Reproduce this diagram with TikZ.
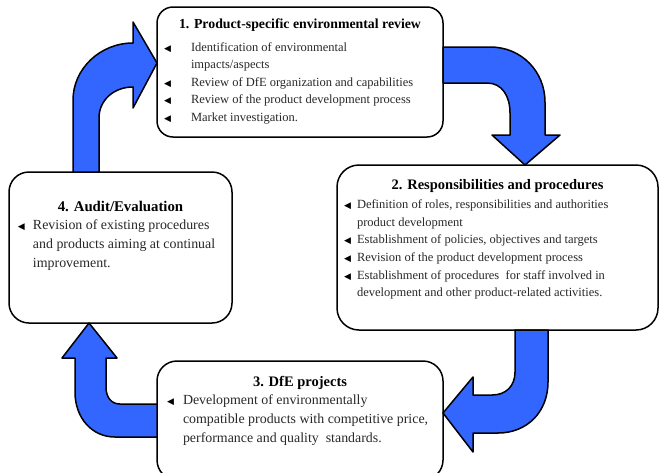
\documentclass[tikz,border=0pt]{standalone}
\usepackage{fontspec}
\setmainfont{Liberation Serif}
\newfontfamily\symfont{DejaVu Sans}
\usetikzlibrary{positioning}
\definecolor{arrowblue}{RGB}{51,102,255}
\definecolor{bodygray}{RGB}{40,40,40}
\newlength{\bhang}
\newcommand{\tri}{\raisebox{0pt}{\color{black}\symfont\fontsize{9}{9}\selectfont ◀}}
\newcommand{\bodysize}[2]{\fontsize{#1}{#2}\selectfont\color{bodygray}}
\newcommand{\stagetitle}[2][14.5]{{\centering\color{black}\fontsize{#1}{17}\selectfont\bfseries #2\par}}
\newcommand{\bitem}[1]{\par\hangindent=\bhang\hangafter=1\noindent\makebox[\bhang][l]{\tri}#1}
\newcommand{\stagebox}[6]{\parbox[c][#2][t]{#1}{\vspace*{#3}\leftskip=#4\relax\rightskip=0pt plus 1fil\relax\parindent=0pt\setlength{\bhang}{#5}#6}}

\begin{document}
\begin{tikzpicture}[x=1pt,y=-1pt,
    stage/.style={draw, line width=1.5pt, rounded corners=18pt, fill=white, inner sep=0pt},
    bigarrow/.style={draw, line width=1.5pt, fill=arrowblue, line join=round}]
  \useasboundingbox (0,0) rectangle (660,472);

  \node (rev)   [stage, rounded corners=16pt] at (300,72)
      {\stagebox{286pt}{130pt}{12pt}{7pt}{27pt}{\bodysize{12.5}{17.5}%
        \stagetitle[13.8]{1. Product-specific environmental review}\vspace{5pt}%
        \bitem{Identification of environmental\newline impacts/aspects}%
        \bitem{Review of DfE organization and capabilities}%
        \bitem{Review of the product development process}%
        \bitem{Market investigation.}}};
  \node (resp)  [stage, rounded corners=22pt] at (497.5,247.5)
      {\stagebox{321pt}{165pt}{14pt}{7pt}{13pt}{\bodysize{12.5}{17.6}%
        \stagetitle{2. Responsibilities and procedures}\vspace{2pt}%
        \bitem{Definition of roles, responsibilities and authorities\newline product development}%
        \bitem{Establishment of policies, objectives and targets}%
        \bitem{Revision of the product development process}%
        \bitem{Establishment of procedures\ \ for staff involved in\newline development and other product-related activities.}}};
  \node (proj)  [stage, rounded corners=20pt] at (300,420.5)
      {\stagebox{286pt}{119pt}{15pt}{10pt}{16pt}{\bodysize{13.9}{19}%
        \stagetitle{3. DfE projects}\vspace{-1pt}%
        \bitem{Development of environmentally\newline compatible products with competitive price,\newline performance and quality\ \ standards.}}};
  \node (audit) [stage, rounded corners=20pt] at (120.5,247.5)
      {\stagebox{223pt}{151pt}{29pt}{9pt}{15pt}{\bodysize{13.9}{19}%
        \stagetitle[14.8]{4. Audit/Evaluation}\vspace{-1pt}%
        \bitem{Revision of existing procedures\newline and products aiming at continual\newline improvement.}}};

  \draw[bigarrow] (73,172) -- (73,100) .. controls (73,69) and (100,43) .. (133,43)
      -- (133,22) -- (157,63) -- (133,108) -- (133,87)
      .. controls (114,87) and (99,100) .. (99,118) -- (99,172) -- cycle;
  \draw[bigarrow] (443,47) -- (490,47) .. controls (522,47) and (545,72) .. (545,102)
      -- (545,135) -- (560,135) -- (525,165) -- (492,135) -- (510,135) -- (510,113)
      .. controls (510,96) and (502,83) .. (487,83) -- (443,83) -- cycle;
  \draw[bigarrow] (515,330) -- (515,372) .. controls (515,386) and (506,395) .. (492,395)
      -- (473,395) -- (473,377) -- (443,413) -- (473,452) -- (473,433) -- (498,433)
      .. controls (527,433) and (548,412) .. (548,382) -- (548,330) -- cycle;
  \draw[bigarrow] (157,404) -- (120,404) .. controls (111,404) and (106,397) .. (106,387)
      -- (106,358) -- (117,358) -- (89,323) -- (62,358) -- (75,358) -- (75,392)
      .. controls (75,418) and (92,437) .. (115,437) -- (157,437) -- cycle;
\end{tikzpicture}
\end{document}
